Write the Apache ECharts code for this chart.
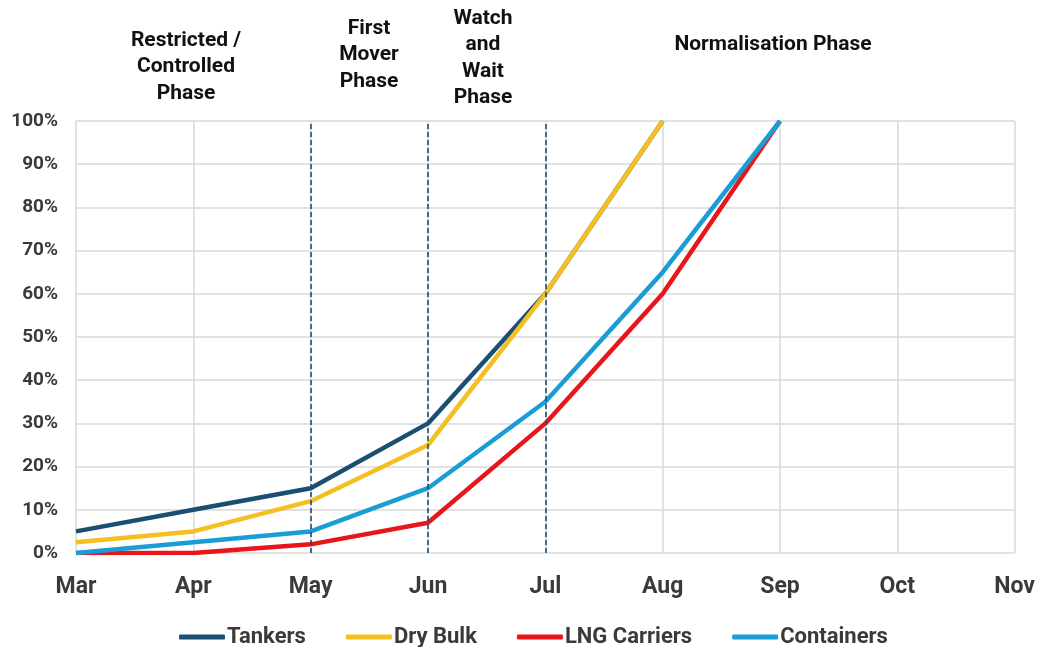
<!DOCTYPE html>
<html>
<head>
<meta charset="utf-8">
<script src="https://cdn.jsdelivr.net/npm/echarts@6/dist/echarts.min.js"></script>
<style>html,body{margin:0;padding:0;background:#fff;}#c{width:1038px;height:647px;}</style>
</head>
<body>
<div id="c"></div>
<script>
const months = ['Mar','Apr','May','Jun','Jul','Aug','Sep','Oct','Nov'];
const tankers = [5, 10, 15, 30, 60, 100, null, null, null];
const dryBulk = [2.5, 5, 12, 25, 60, 100, null, null, null];
const lngCarriers = [0, 0, 2, 7, 30, 60, 100, null, null];
const containers = [0, 2.5, 5, 15, 35, 65, 100, null, null];
const phaseLines = ['May', 'Jun', 'Jul'];
const phases = [
  {text: 'Restricted /\nControlled\nPhase', x: 186, y: 27},
  {text: 'First\nMover\nPhase', x: 369, y: 15},
  {text: 'Watch\nand\nWait\nPhase', x: 483, y: 5},
  {text: 'Normalisation Phase', x: 773, y: 31}
];

const chart = echarts.init(document.getElementById('c'));
const font = 'Roboto, "Noto Sans", sans-serif';
const textColor = '#3a3a3a';

function mk(name, data, color, extra) {
  return Object.assign({
    name: name, type: 'line', data: data, symbol: 'none', connectNulls: false,
    lineStyle: {color: color, width: 4.5}, itemStyle: {color: color}
  }, extra || {});
}

chart.setOption({
  animation: false,
  backgroundColor: '#fff',
  grid: {left: 76, right: 23, top: 121, bottom: 94},
  graphic: phases.map(p => ({
    type: 'text', x: p.x, y: p.y,
    style: {text: p.text, textAlign: 'center', textVerticalAlign: 'top',
      font: 'bold 21px ' + font, fill: '#111', lineHeight: 26.5}
  })),
  legend: {
    top: 621, left: 174, itemWidth: 46, itemHeight: 5, itemGap: 40,
    icon: 'roundRect',
    textStyle: {fontFamily: font, fontWeight: 'bold', fontSize: 22, color: textColor, padding: [0,0,0,-3]},
    data: ['Tankers', 'Dry Bulk', 'LNG Carriers', 'Containers']
  },
  xAxis: {
    type: 'category', data: months, boundaryGap: false,
    axisLine: {show: false}, axisTick: {show: false},
    splitLine: {show: true, lineStyle: {color: '#d9d9d9', width: 1.5}},
    axisLabel: {fontFamily: font, fontWeight: 'bold', fontSize: 23, color: textColor, margin: 23}
  },
  yAxis: {
    type: 'value', min: 0, max: 100, interval: 10,
    axisLine: {show: false}, axisTick: {show: false},
    splitLine: {lineStyle: {color: '#d9d9d9', width: 1.5}},
    axisLabel: {formatter: '{value}%', fontFamily: font, fontWeight: 'bold', fontSize: 19, color: textColor, margin: 18}
  },
  series: [
    mk('Tankers', tankers, '#1b4f72', {
      markLine: {
        silent: true, symbol: 'none', label: {show: false},
        lineStyle: {color: '#1f4e6e', type: [5, 3], width: 1.6},
        data: phaseLines.map(m => ({xAxis: m}))
      }
    }),
    mk('Dry Bulk', dryBulk, '#f5bf22'),
    mk('LNG Carriers', lngCarriers, '#e8151b'),
    mk('Containers', containers, '#1a9dd5')
  ]
});
</script>
</body>
</html>
